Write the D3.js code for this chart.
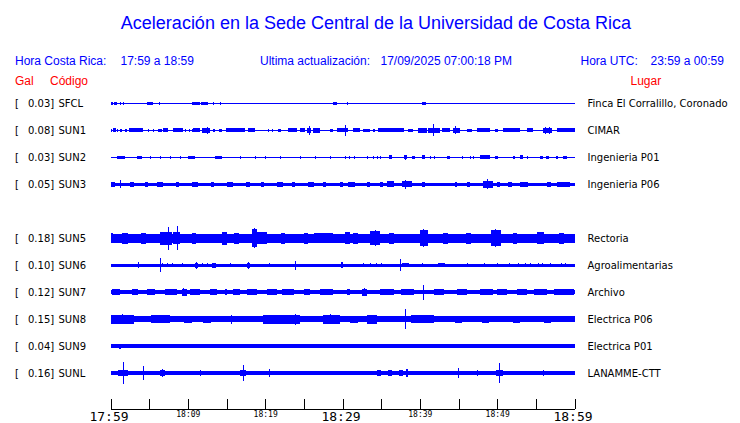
<!DOCTYPE html>
<html>
<head>
<meta charset="utf-8">
<script src="https://cdn.jsdelivr.net/npm/d3@7"></script>
<style>
body { margin: 0; background: #fff; }
</style>
</head>
<body>
<div id="chart"></div>
<script>
let width = 740;
let height = 423;

// estaciones
let stationCodes = ["SFCL", "SUN1", "SUN2", "SUN3", "SUN5", "SUN6", "SUN7", "SUN8", "SUN9", "SUNL"];
let stationGal = ["0.03", "0.08", "0.03", "0.05", "0.18", "0.10", "0.12", "0.15", "0.04", "0.16"];
let stationPlaces = ["Finca El Corralillo, Coronado", "CIMAR", "Ingenieria P01", "Ingenieria P06", "Rectoria",
    "Agroalimentarias", "Archivo", "Electrica P06", "Electrica P01", "LANAMME-CTT"];
let stationSlots = [0, 1, 2, 3, 5, 6, 7, 8, 9, 10];

// amplitud base de cada traza (unidades relativas, 13.5 = media fila)
let baseAmp = [0.5, 0.8, 0.6, 1.8, 4.5, 1.6, 2.2, 3, 1.6, 1.7];

// rafagas [minuto inicio, minuto fin, amplitud]
let burstsSFCL = [[0,0.3,2],[0.4,0.9,1.5],[1.2,1.35,1.5],[1.6,1.7,1.5],[3.2,3.35,1],[4.7,5.5,1.5],[6.3,6.4,1.5],
    [7.7,7.8,1],[9.2,9.3,1],[9.6,9.7,1],[10.0,10.1,1],[10.6,11.6,1.5],[11.7,12.6,1.5],[13.3,13.4,1.5],[14.2,14.3,1.5],
    [19.9,20.0,1],[27.4,27.5,1],[27.8,27.9,1],[28.8,29.3,1.5],[30.6,30.7,1.5],[40.3,40.8,1.5]];
let burstsSUN1 = [[0,0.2,1.5],[0.35,0.75,2],[0.85,0.95,1.5],[1.25,1.5,1.5],[1.9,2.15,1.5],[2.4,4.2,2],[4.85,4.95,1.5],
    [5.5,5.6,1.5],[6.15,6.7,1.5],[6.8,7.45,2],[8.1,9.4,2],[9.65,9.75,1.5],[10.1,10.2,1.5],[10.5,10.6,1.5],[10.7,11.6,2],
    [11.85,12.9,2.5],[13.3,13.5,1.5],[14.0,14.4,1.5],[14.95,17.4,2],[17.8,18.7,2],[20.4,20.5,1.5],[20.9,21.0,1.5],
    [21.7,22.1,1.5],[22.95,24.1,2],[24.5,25.2,2],[25.4,25.9,2.5],[26.2,27.1,2.5],[28.4,28.8,1.5],[29.3,30.7,2],
    [31.3,32.3,2],[32.7,33.6,1.5],[34.0,34.2,1.5],[34.6,37.9,2],[38.5,39.1,1.5],[39.8,40.9,2.5],[41.1,42.6,2.5],
    [42.9,43.9,2],[44.3,45.2,2.5],[46.1,46.8,1.5],[47.4,49.1,2],[49.75,50.1,1.5],[50.8,53.0,2],[53.9,54.6,2],
    [55.9,57.1,2.5],[57.7,60,2]];
let burstsSUN2 = [[0.9,1.9,1.5],[3.45,4.1,1.5],[5.1,5.2,1.5],[6.4,6.5,1.5],[7.7,7.8,1.5],[9.0,9.1,1.5],[10.05,10.95,1.5],
    [13.5,14.4,1.5],[16.8,16.9,1.5],[18.7,18.8,1.5],[20.0,20.1,1.5],[21.9,22.0,1.5],[24.5,24.6,1.5],[26.5,26.6,1.5],
    [28.4,28.5,1.5],[30.35,30.45,1.5],[30.9,31.0,1.5],[31.5,31.6,1.5],[33.2,33.3,1.5],[33.9,34.0,1.5],[34.4,34.5,1.5],
    [34.9,35.0,1.5],[36.0,36.4,2],[37.9,38.4,2],[39.0,39.4,1.5],[40.3,40.7,2],[41.3,41.45,1.5],[41.8,41.9,1.5],
    [43.55,43.9,1.5],[45.5,45.6,1.5],[46.5,46.6,1.5],[46.9,47.0,1.5],[47.8,49.1,2],[49.75,50.1,1.5],[52.1,52.3,1.5],
    [53.0,53.4,2],[53.9,54.0,1.5],[55.5,55.9,1.5],[56.3,56.7,1.5],[57.6,57.9,1.5],[58.5,59,1.5]];
let burstsSUN3 = [[0,0.6,2.8],[2.5,3.0,2.5],[4.5,4.9,2.5],[6.0,6.8,2.8],[8.5,8.9,2.5],[10.5,11.3,2.8],[13,13.4,2.5],
    [15,15.8,2.8],[17.5,18.0,2.5],[19.5,19.9,2.5],[21.5,22.3,2.8],[23.5,23.9,2.5],[25.5,26.3,2.8],[27.5,27.9,2.5],
    [29.7,30.1,2.8],[30.7,31.6,2.8],[33.2,33.6,2.5],[34.9,35.3,2.5],[35.8,36.6,3],[37.7,39.0,3],[40.3,40.7,2.8],
    [44.6,44.8,2.5],[46.1,46.5,2.5],[48.2,49.5,3.2],[50.0,50.4,2.5],[51.4,51.9,2.5],[53.0,54.0,2.8],[56.5,56.9,2.5],
    [57.7,59.4,2.5]];
let burstsSUN5 = [[0,0.3,5],[1.5,2.2,5.5],[4,4.6,5.5],[6.4,7.9,6.5],[8.1,9.0,6],[10.5,11.1,5.5],[14.4,15.1,6.5],
    [16,16.6,5.5],[18.3,18.9,9],[18.9,20.2,6],[22,22.6,5.5],[25,25.6,5.5],[26.3,28.8,5],[30.3,31,6],[31.4,32,5.5],
    [33.6,34.8,7],[36,36.6,5.5],[40,41,8],[43,43.6,5.5],[46,46.6,5.5],[49.2,50.5,8],[52,52.6,5.5],[55.2,56,6],[58,58.6,5.5]];
let burstsSUN6 = [[6.7,6.8,2],[7.3,7.4,2],[7.9,8.0,2],[10.9,11.3,2.5],[11.8,11.9,2],[12.5,12.6,2],[13.1,13.6,2.5],
    [17.7,18.1,2.5],[29.8,30.1,3],[32.6,32.7,2],[33.6,33.7,2],[34.3,34.4,2],[35.0,35.1,2],[37.7,38.6,2.2],[42.4,43.3,2.2]];
let burstsSUN7 = [[0.2,1.25,3],[2.77,3.62,3],[4.7,5.8,3],[7.07,8.6,3],[9.2,9.9,3.5],[10.3,11.6,3],[12.9,13.75,3],
    [14.8,15.05,3],[15.9,16.8,3],[17.6,18.9,3],[20.2,21.5,3],[22.2,23.7,3],[25.0,25.8,3],[27.1,28.8,3],[30.6,31.0,3],
    [32.5,33.2,3.5],[34.9,36.6,3],[37.5,39.2,3],[41.8,43.1,3],[44.8,46.1,3],[47.8,49.5,3],[50.0,51.3,3],[52.6,53.8,3],
    [54.7,56.4,3],[57.3,59.9,3]];
let burstsSUN8 = [[0,3.0,4.5],[5.2,7.7,4],[9.5,10.5,3.5],[12,13,3.5],[19.7,24.5,4.5],[27.5,29.7,4.5],[31,32,3.5],
    [33.2,34.5,4.5],[38.8,41.8,4],[44.6,45.5,3.5],[48,49,3.5],[52,53,3.5],[56,57,3.5]];
let burstsSUN9 = [[1.1,1.4,2.5],[4.6,4.8,2],[7.4,7.6,2],[9.8,10.0,2],[11.5,11.7,2],[15.4,15.6,2],[18.8,19.0,2],
    [26.2,26.4,2],[32.6,32.8,2],[36.3,36.5,2],[38.0,38.2,2],[46.8,47.0,2],[49.9,50.1,2],[55.0,55.2,2],[58.9,59.1,2]];
let burstsSUNL = [[1.0,2.3,3],[3.9,4.5,2.5],[6.4,7.0,3],[16.8,17.5,3],[20.3,20.8,2.5],[34.5,35,3],[35.9,36.4,3.5],
    [37.3,37.8,3.5],[38.2,38.5,4],[44.7,45.2,2.5],[49.8,50.8,3],[52.0,52.2,2.5],[55.6,56.3,2.5]];
let stationBursts = [burstsSFCL, burstsSUN1, burstsSUN2, burstsSUN3, burstsSUN5, burstsSUN6, burstsSUN7, burstsSUN8, burstsSUN9, burstsSUNL];

// picos [minuto, amplitud]
let spikesSFCL = [];
let spikesSUN1 = [[12.5,3.7],[25.7,4.5],[30.45,5.5],[41.8,6],[44.6,4],[56.2,3.5],[56.8,3.5]];
let spikesSUN2 = [[38.1,2.8]];
let spikesSUN3 = [[1.25,4],[38.2,4.5],[48.8,5]];
let spikesSUN5 = [[7.46,11.5],[8.63,12],[18.6,10],[34.3,8],[40.5,9],[49.8,9]];
let spikesSUN6 = [[3.6,3],[6.43,7.3],[9.3,2.2],[11.08,3.5],[15.5,2],[17.9,3.5],[20.6,2],[23.9,4.5],[37.5,6.3],[40.3,2],
    [46.1,2],[48.4,2],[50.0,2],[51.6,2],[52.7,2],[53.6,2],[54.3,2],[55.3,2],[55.9,2],[56.9,2],[58.3,2],[58.9,2]];
let spikesSUN7 = [[9.5,4],[32.8,4],[40.5,7.5]];
let spikesSUN8 = [[1.5,5],[15.7,4.5],[23.9,5.5],[28.5,5],[38.2,9.7]];
let spikesSUN9 = [];
let spikesSUNL = [[1.64,11.3],[4.23,7],[6.69,4],[11.6,3],[17.16,7.7],[20.6,4],[44.96,5.5],[47.4,3],[50.3,10.3],[56.0,3.5]];
let stationSpikes = [spikesSFCL, spikesSUN1, spikesSUN2, spikesSUN3, spikesSUN5, spikesSUN6, spikesSUN7, spikesSUN8, spikesSUN9, spikesSUNL];

// eje de tiempo
let tickMinutes = d3.range(0, 61, 5);
let tickLabels = {0: "17:59", 10: "18:09", 20: "18:19", 30: "18:29", 40: "18:39", 50: "18:49", 60: "18:59"};
let majorTicks = [0, 30, 60];

let blue = "#0000ff";
let red = "#ff0000";

let svg = d3.select("#chart")
    .append("svg")
    .attr("width", width)
    .attr("height", height);

let x = d3.scaleLinear().domain([0, 60]).range([110.5, 574.5]);
let y = d3.scalePoint().domain(d3.range(11)).range([103.5, 373]);
let amp = d3.scaleLinear().domain([0, 13.5]).range([0, y.step() / 2]);

// titulo y encabezados
svg.append("text")
    .attr("x", 376)
    .attr("y", 29)
    .attr("text-anchor", "middle")
    .style("font-family", "Liberation Sans, Arial, sans-serif")
    .style("font-size", "18px")
    .style("fill", blue)
    .text("Aceleración en la Sede Central de la Universidad de Costa Rica");

let header = [
    {x: 15, t: "Hora Costa Rica:"}, {x: 120.5, t: "17:59 a 18:59"},
    {x: 260, t: "Ultima actualización:"}, {x: 380.5, t: "17/09/2025 07:00:18 PM"},
    {x: 580.5, t: "Hora UTC:"}, {x: 650.5, t: "23:59 a 00:59"}
];
svg.selectAll(".hdr")
    .data(header)
    .enter()
    .append("text")
    .attr("x", d => d.x)
    .attr("y", 65)
    .style("font-family", "Liberation Sans, Arial, sans-serif")
    .style("font-size", "12px")
    .style("fill", blue)
    .text(d => d.t);

let header2 = [{x: 15, t: "Gal"}, {x: 50, t: "Código"}, {x: 630.5, t: "Lugar"}];
svg.selectAll(".hdr2")
    .data(header2)
    .enter()
    .append("text")
    .attr("x", d => d.x)
    .attr("y", 85)
    .style("font-family", "Liberation Sans, Arial, sans-serif")
    .style("font-size", "12px")
    .style("fill", red)
    .text(d => d.t);

// trazas
let rows = svg.append("g")
    .selectAll("g")
    .data(stationCodes)
    .enter()
    .append("g")
    .attr("transform", (d, i) => "translate(0," + y(stationSlots[i]) + ")");

rows.append("rect")
    .attr("x", x(0))
    .attr("width", x(60) - x(0))
    .attr("y", (d, i) => -Math.max(amp(baseAmp[i]), 0.5))
    .attr("height", (d, i) => Math.max(2 * amp(baseAmp[i]), 1))
    .attr("fill", blue)
    .attr("shape-rendering", "crispEdges");

rows.each(function(d, i) {
    let g = d3.select(this);
    g.selectAll(".burst")
        .data(stationBursts[i])
        .enter()
        .append("rect")
        .attr("x", b => x(b[0]))
        .attr("width", b => Math.max(x(b[1]) - x(b[0]), 1))
        .attr("y", b => -amp(b[2]))
        .attr("height", b => 2 * amp(b[2]))
        .attr("fill", blue)
        .attr("shape-rendering", "crispEdges");
    g.selectAll(".spike")
        .data(stationSpikes[i])
        .enter()
        .append("rect")
        .attr("x", s => x(s[0]) - 0.5)
        .attr("width", 1)
        .attr("y", s => -amp(s[1]))
        .attr("height", s => 2 * amp(s[1]))
        .attr("fill", blue)
        .attr("shape-rendering", "crispEdges");
});

let labelFont = "DejaVu Sans, Verdana, sans-serif";
rows.append("text").attr("x", 15).attr("y", 3.6)
    .style("font-family", labelFont).style("font-size", "10px").text("[");
rows.append("text").attr("x", 28).attr("y", 3.6)
    .style("font-family", labelFont).style("font-size", "10px").text((d, i) => stationGal[i] + "]");
rows.append("text").attr("x", 58.5).attr("y", 3.6)
    .style("font-family", labelFont).style("font-size", "10px").text(d => d);
rows.append("text").attr("x", 587.5).attr("y", 3.6)
    .style("font-family", labelFont).style("font-size", "10px").text((d, i) => stationPlaces[i]);

// eje
let axis = d3.axisBottom(x)
    .tickValues(tickMinutes)
    .tickSizeInner(-10)
    .tickSizeOuter(0)
    .tickPadding(3)
    .tickFormat(m => tickLabels[m] || "");

let axisG = svg.append("g")
    .attr("transform", "translate(0,408.5)")
    .call(axis);

axisG.select(".domain").attr("stroke", "#000").attr("shape-rendering", "crispEdges");
axisG.selectAll(".tick line").attr("stroke", "#000").attr("shape-rendering", "crispEdges");
axisG.selectAll(".tick text")
    .style("font-family", "DejaVu Sans Mono, monospace")
    .style("font-size", m => majorTicks.includes(m) ? "13px" : "8px")
    .attr("dx", m => majorTicks.includes(m) ? "-2" : "0")
    .attr("fill", "#000");
</script>
</body>
</html>
